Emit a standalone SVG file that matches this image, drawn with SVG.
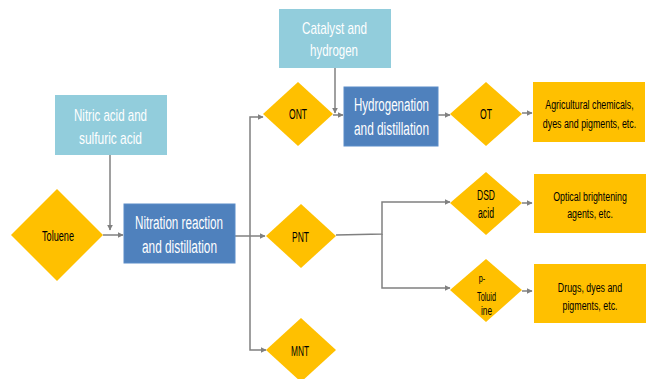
<svg xmlns="http://www.w3.org/2000/svg" width="653" height="379" viewBox="0 0 653 379">
<style>
.lb{fill:#92CDDC}
.bl{fill:#4F81BD;stroke:#5B8CC8;stroke-width:1}
.ye{fill:#FFC000}
.wt{fill:#fff;font-family:"Liberation Sans",Arial,sans-serif;text-anchor:middle}
.bt{fill:#000;font-family:"Liberation Sans",Arial,sans-serif;text-anchor:middle}
.c{fill:none;stroke:#808080;stroke-width:1.5}
</style>
<defs>
<marker id="ah" viewBox="0 0 10 10" refX="9" refY="5" markerWidth="4" markerHeight="4" markerUnits="strokeWidth" orient="auto">
<path d="M0,0 L10,5 L0,10 z" fill="#808080"/>
</marker>
</defs>
<g id="connectors">
<path class="c" d="M110,155 V230" marker-end="url(#ah)"/>
<path class="c" d="M103,235 H123" marker-end="url(#ah)"/>
<path class="c" d="M235,236 H265" marker-end="url(#ah)"/>
<path class="c" d="M250,236 V117 H263" marker-end="url(#ah)"/>
<path class="c" d="M250,236 V350 H266" marker-end="url(#ah)"/>
<path class="c" d="M335,68 V113" marker-end="url(#ah)"/>
<path class="c" d="M333,115 H343" marker-end="url(#ah)"/>
<path class="c" d="M438,115 H450" marker-end="url(#ah)"/>
<path class="c" d="M522,113 H532" marker-end="url(#ah)"/>
<path class="c" d="M336,235 L382,234 V202 H450" marker-end="url(#ah)"/>
<path class="c" d="M382,234 V288 H450" marker-end="url(#ah)"/>
<path class="c" d="M522,203 H532" marker-end="url(#ah)"/>
<path class="c" d="M522,291 H532" marker-end="url(#ah)"/>
</g>
<g id="nitric">
<rect class="lb" x="55" y="95" width="112" height="60"/>
<text class="wt" font-size="17" x="110.5" y="121" textLength="73" lengthAdjust="spacingAndGlyphs">Nitric acid and</text>
<text class="wt" font-size="17" x="110.5" y="144" textLength="63" lengthAdjust="spacingAndGlyphs">sulfuric acid</text>
</g>
<g id="catalyst">
<rect class="lb" x="279" y="9" width="112" height="59"/>
<text class="wt" font-size="17" x="334.5" y="34" textLength="65" lengthAdjust="spacingAndGlyphs">Catalyst and</text>
<text class="wt" font-size="17" x="334" y="56" textLength="48" lengthAdjust="spacingAndGlyphs">hydrogen</text>
</g>
<g id="toluene">
<polygon class="ye" points="57,189 103,235 57,281 11,235"/>
<text class="bt" font-size="14" x="58" y="241" textLength="32" lengthAdjust="spacingAndGlyphs">Toluene</text>
</g>
<g id="nitration">
<rect class="bl" x="124" y="204" width="111" height="59"/>
<text class="wt" font-size="18" x="179" y="229" textLength="88" lengthAdjust="spacingAndGlyphs">Nitration reaction</text>
<text class="wt" font-size="18" x="179.5" y="253" textLength="75" lengthAdjust="spacingAndGlyphs">and distillation</text>
</g>
<g id="ont">
<polygon class="ye" points="298,82 333,114 298,146 263,114"/>
<text class="bt" font-size="14" x="298" y="119" textLength="18" lengthAdjust="spacingAndGlyphs">ONT</text>
</g>
<g id="pnt">
<polygon class="ye" points="301,204 336,236 301,268 266,236"/>
<text class="bt" font-size="14" x="300.5" y="242" textLength="17" lengthAdjust="spacingAndGlyphs">PNT</text>
</g>
<g id="mnt">
<polygon class="ye" points="301,318 336,350 301,382 266,350"/>
<text class="bt" font-size="14" x="300" y="356" textLength="18" lengthAdjust="spacingAndGlyphs">MNT</text>
</g>
<g id="hydrogenation">
<rect class="bl" x="344" y="87" width="94" height="59"/>
<text class="wt" font-size="18" x="391.5" y="111" textLength="75" lengthAdjust="spacingAndGlyphs">Hydrogenation</text>
<text class="wt" font-size="18" x="391.5" y="135" textLength="75" lengthAdjust="spacingAndGlyphs">and distillation</text>
</g>
<g id="ot">
<polygon class="ye" points="486,82 522,114 486,146 450,114"/>
<text class="bt" font-size="14" x="486" y="119" textLength="12" lengthAdjust="spacingAndGlyphs">OT</text>
</g>
<g id="agri">
<rect class="ye" x="533" y="82" width="112" height="60"/>
<g transform="translate(589.5,0) scale(0.655,1)">
<text class="bt" font-size="13.5" x="0" y="109">Agricultural chemicals,</text>
<text class="bt" font-size="13.5" x="0" y="128">dyes and pigments, etc.</text>
</g>
</g>
<g id="dsd">
<polygon class="ye" points="486,172 522,203 486,235 450,203"/>
<text class="bt" font-size="14" x="486" y="200" textLength="18" lengthAdjust="spacingAndGlyphs">DSD</text>
<text class="bt" font-size="14" x="486" y="218" textLength="16" lengthAdjust="spacingAndGlyphs">acid</text>
</g>
<g id="toluidine">
<polygon class="ye" points="486,259 522,290 486,322 450,290"/>
<text class="bt" font-size="11" x="482" y="282" textLength="6.5" lengthAdjust="spacingAndGlyphs">p-</text>
<text class="bt" font-size="13" x="486.5" y="301" textLength="19" lengthAdjust="spacingAndGlyphs">Toluid</text>
<text class="bt" font-size="13" x="486.5" y="315" textLength="11" lengthAdjust="spacingAndGlyphs">ine</text>
</g>
<g id="optical">
<rect class="ye" x="534" y="174" width="112" height="59"/>
<g transform="translate(590,0) scale(0.655,1)">
<text class="bt" font-size="13.5" x="0" y="201">Optical brightening</text>
<text class="bt" font-size="13.5" x="0" y="218">agents, etc.</text>
</g>
</g>
<g id="drugs">
<rect class="ye" x="534" y="264" width="112" height="59"/>
<g transform="translate(590,0) scale(0.655,1)">
<text class="bt" font-size="13.5" x="0" y="292">Drugs, dyes and</text>
<text class="bt" font-size="13.5" x="0" y="310">pigments, etc.</text>
</g>
</g>
</svg>
